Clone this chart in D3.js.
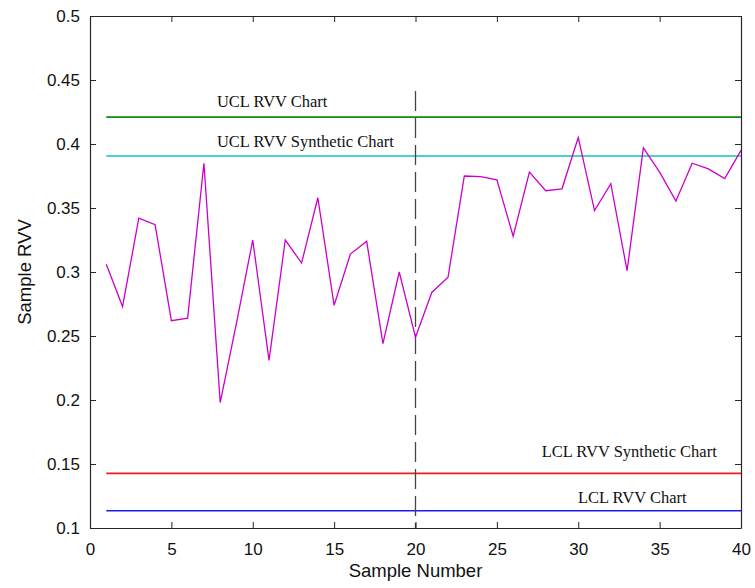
<!DOCTYPE html>
<html>
<head>
<meta charset="utf-8">
<script src="https://cdn.jsdelivr.net/npm/d3@7"></script>
<style>
  body { margin: 0; background: #fff; }
  svg { display: block; }
</style>
</head>
<body>
<svg id="chart"></svg>
<script>
// Data
var sampleNumbers = d3.range(1, 41)
var sampleRVV = [0.306, 0.273, 0.342, 0.337, 0.262, 0.264, 0.385, 0.198, 0.260, 0.325,
                 0.231, 0.325, 0.307, 0.358, 0.274, 0.314, 0.324, 0.244, 0.300, 0.249,
                 0.284, 0.296, 0.375, 0.3745, 0.372, 0.328, 0.378, 0.3635, 0.365, 0.405,
                 0.348, 0.369, 0.301, 0.397, 0.378, 0.3555, 0.385, 0.3805, 0.373, 0.395]

// control limits
var limitNames = ["UCL RVV Chart", "UCL RVV Synthetic Chart", "LCL RVV Synthetic Chart", "LCL RVV Chart"]
var limitValues = [0.421, 0.3906, 0.1427, 0.1135]
var limitColors = ["#108a10", "#10c0c0", "#ee1c1c", "#1c1cf0"]

// label anchors, in data units
var labelX = [7.8, 7.8, 27.75, 29.98]
var labelY = [0.4289, 0.3979, 0.1555, 0.1198]

// change point marker
var changeAt = 20
var changeRange = [0.1, 0.4414]

var xTicks = [0, 5, 10, 15, 20, 25, 30, 35, 40]
var yTicks = [0.1, 0.15, 0.2, 0.25, 0.3, 0.35, 0.4, 0.45, 0.5]
var yTickLabels = ["0.1", "0.15", "0.2", "0.25", "0.3", "0.35", "0.4", "0.45", "0.5"]

// Set up dimensions
const W = 755, H = 588
const margin = { top: 16, right: 14, bottom: 60, left: 90 }
const width = 741 - margin.left
const height = 528 - margin.top

const svg = d3.select("#chart")
  .attr("width", W)
  .attr("height", H)

const g = svg.append("g")
  .attr("transform", `translate(${margin.left},${margin.top})`)

const x = d3.scaleLinear().domain([0, 40]).range([0, width])
const y = d3.scaleLinear().domain([0.1, 0.5]).range([height, 0])

// limit lines
limitValues.forEach(function(v, i) {
  g.append("line")
    .attr("x1", x(1)).attr("x2", x(40))
    .attr("y1", y(v)).attr("y2", y(v))
    .attr("stroke", limitColors[i])
    .attr("stroke-width", 1.6)
})

// dashed vertical line at the change point
g.append("line")
  .attr("x1", x(changeAt)).attr("x2", x(changeAt))
  .attr("y1", y(changeRange[1])).attr("y2", y(changeRange[0]))
  .attr("stroke", "#444")
  .attr("stroke-width", 1.3)
  .attr("stroke-dasharray", "20,7")

// the sample line
const line = d3.line()
  .x((d, i) => x(sampleNumbers[i]))
  .y(d => y(d))

g.append("path")
  .datum(sampleRVV)
  .attr("d", line)
  .attr("fill", "none")
  .attr("stroke", "#cc00cc")
  .attr("stroke-width", 1.3)

// limit labels
limitNames.forEach(function(name, i) {
  g.append("text")
    .attr("x", x(labelX[i]))
    .attr("y", y(labelY[i]))
    .attr("font-family", "Liberation Serif, Times New Roman, serif")
    .attr("font-size", 16.5)
    .attr("fill", "#111")
    .text(name)
})

// axes box with inward ticks
const axisColor = "#262626"
const tickLen = 6

function styleAxis(sel) {
  sel.selectAll("path").attr("stroke", axisColor)
  sel.selectAll("line").attr("stroke", axisColor)
  sel.selectAll("text")
    .attr("fill", "#111")
    .attr("font-family", "Liberation Sans, Arial, sans-serif")
    .attr("font-size", 17)
}

g.append("g")
  .attr("transform", `translate(0,${height})`)
  .call(d3.axisBottom(x).tickValues(xTicks).tickSizeInner(-tickLen).tickSizeOuter(0).tickPadding(15))
  .call(styleAxis)

g.append("g")
  .call(d3.axisTop(x).tickValues(xTicks).tickSizeInner(-tickLen).tickSizeOuter(0).tickFormat(""))
  .call(styleAxis)

g.append("g")
  .call(d3.axisLeft(y).tickValues(yTicks).tickSizeInner(-tickLen).tickSizeOuter(0).tickPadding(10)
        .tickFormat((d, i) => yTickLabels[i]))
  .call(styleAxis)

g.append("g")
  .attr("transform", `translate(${width},0)`)
  .call(d3.axisRight(y).tickValues(yTicks).tickSizeInner(-tickLen).tickSizeOuter(0).tickFormat(""))
  .call(styleAxis)

g.selectAll(".domain").attr("stroke-width", 1.2)

// axis titles
svg.append("text")
  .attr("x", margin.left + width / 2)
  .attr("y", 577)
  .attr("text-anchor", "middle")
  .attr("font-family", "Liberation Sans, Arial, sans-serif")
  .attr("font-size", 18.5)
  .attr("fill", "#111")
  .text("Sample Number")

svg.append("text")
  .attr("transform", `translate(31,${margin.top + height / 2}) rotate(-90)`)
  .attr("text-anchor", "middle")
  .attr("font-family", "Liberation Sans, Arial, sans-serif")
  .attr("font-size", 18.5)
  .attr("fill", "#111")
  .text("Sample RVV")
</script>
</body>
</html>
